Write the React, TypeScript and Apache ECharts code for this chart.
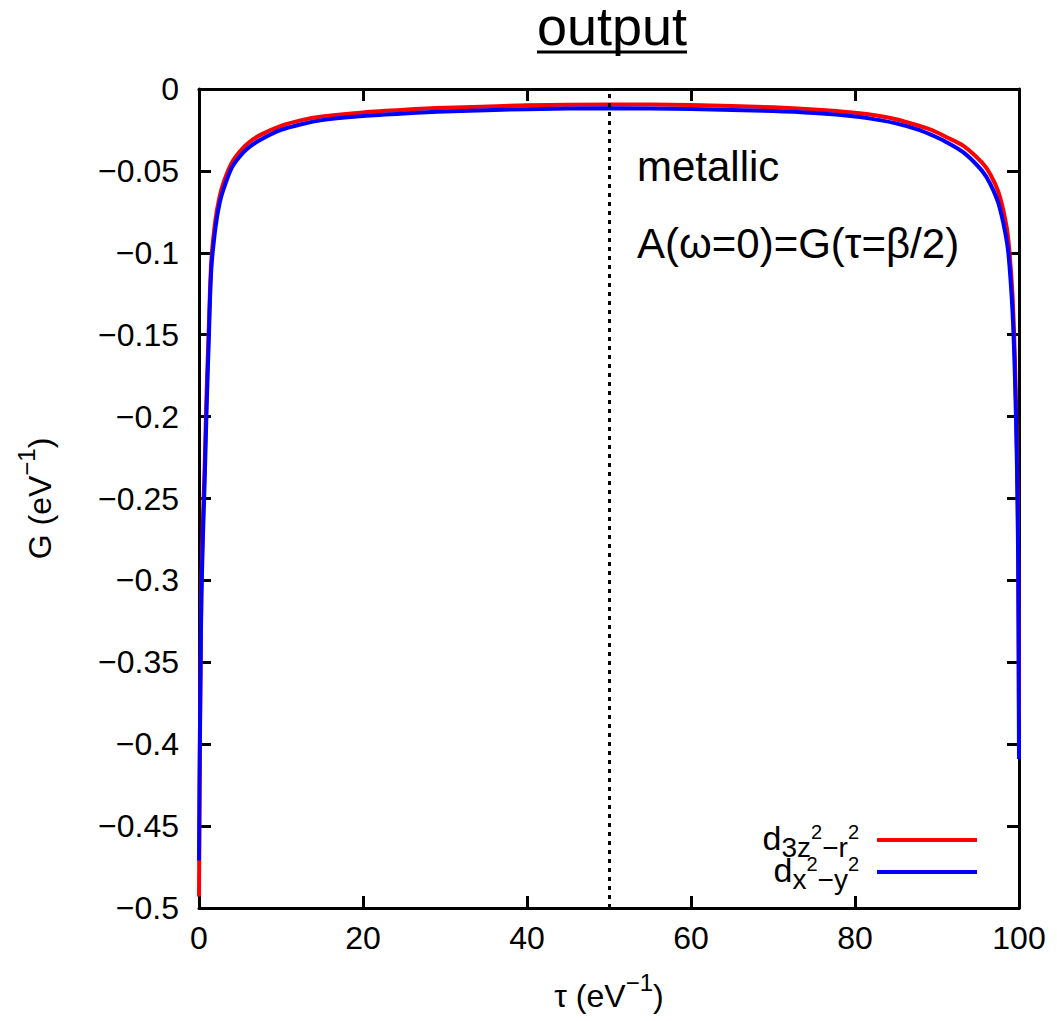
import React, { useEffect, useRef } from "react";
import * as echarts from "echarts";

const FONT = "'Liberation Sans', Arial, Helvetica, sans-serif";

// imaginary time grid (eV^-1)
const tau = [0, 0.1, 0.2, 0.3, 0.5, 0.7, 0.9, 1.2, 1.5, 2,
  2.5, 3, 4, 5, 6, 7.5, 10, 12.5, 15, 20,
  25, 30, 40, 50, 60, 70, 75, 80, 83, 85,
  87.5, 89.3, 91, 93.3, 95.5, 96.5, 97.5, 98.3, 98.7, 99.2,
  99.5, 99.75, 99.9, 100];

// G(tau) for d_{3z^2-r^2} (red)
const gZ2 = [-0.493, -0.41, -0.35, -0.30, -0.26, -0.228, -0.19, -0.145, -0.105, -0.08,
  -0.066, -0.057, -0.045, -0.038, -0.033, -0.028, -0.0225, -0.019, -0.0168, -0.0143,
  -0.0127, -0.0115, -0.0099, -0.0094, -0.0098, -0.0112, -0.0125, -0.0145, -0.0165, -0.0185,
  -0.022, -0.025, -0.029, -0.035, -0.045, -0.052, -0.063, -0.079, -0.092, -0.125,
  -0.165, -0.22, -0.28, -0.385];

// G(tau) for d_{x^2-y^2} (blue)
const gX2Y2 = [-0.471, -0.40, -0.35, -0.31, -0.27, -0.238, -0.2, -0.152, -0.11, -0.085,
  -0.07, -0.061, -0.048, -0.041, -0.036, -0.031, -0.025, -0.0215, -0.019, -0.0165,
  -0.0149, -0.0137, -0.0123, -0.0118, -0.0122, -0.0135, -0.0147, -0.0168, -0.019, -0.021,
  -0.0245, -0.028, -0.032, -0.039, -0.05, -0.058, -0.07, -0.087, -0.1, -0.135,
  -0.175, -0.23, -0.29, -0.409];

const seriesNames = ["d3z2-r2", "dx2-y2"];
const seriesColors = ["#ff0000", "#0000ff"];
const legendRich: Record<string, string> = {
  "d3z2-r2": "{d|d}{sb|3z}{ss|2}{sb|−r}{ssl|2}",
  "dx2-y2": "{d|d}{sb|x}{ss|2}{sb|−y}{ssl|2}",
};
const halfBeta = 50;
const title = "output";
const note1 = "metallic";
const note2 = "A(ω=0)=G(τ=β/2)";
const xName = "{b|τ (eV}{sup|−1}{b|)}";
const yName = "{b|G (eV}{sup|−1}{b|)}";

export default function App() {
  const ref = useRef<HTMLDivElement>(null);
  useEffect(() => {
    if (!ref.current) return;
    const chart = echarts.init(ref.current, null, { renderer: "svg" });
    const axisLine = { show: true, onZero: false, lineStyle: { color: "#000", width: 3 } };
    const axisTick = { show: true, inside: true, length: 12, lineStyle: { color: "#000", width: 3 } };
    const nameStyle = {
      fontSize: 32, color: "#000", fontFamily: FONT,
      rich: {
        b: { fontSize: 32, verticalAlign: "top", padding: [10, 0, 0, 0], fontFamily: FONT, color: "#000" },
        sup: { fontSize: 24, verticalAlign: "top", padding: [0, 0, 0, 0], fontFamily: FONT, color: "#000" },
      },
    };
    const seriesData = [gZ2, gX2Y2].map((vals) => tau.map((t, i) => [t, vals[i]]));
    const option: any = {
      animation: false,
      backgroundColor: "#fff",
      textStyle: { fontFamily: FONT },
      grid: { left: 199, right: 38, top: 89, bottom: 113 },
      xAxis: [
        {
          type: "value", min: 0, max: 100, interval: 20, position: "bottom",
          axisLine, axisTick, splitLine: { show: false },
          axisLabel: { fontSize: 32, color: "#000", margin: 14, fontFamily: FONT },
          name: xName, nameLocation: "middle", nameGap: 62,
          nameTextStyle: nameStyle,
        },
        {
          type: "value", min: 0, max: 100, interval: 20, position: "top",
          axisLine, axisTick, splitLine: { show: false }, axisLabel: { show: false },
        },
      ],
      yAxis: [
        {
          type: "value", min: -0.5, max: 0, interval: 0.05, position: "left",
          axisLine, axisTick, splitLine: { show: false },
          axisLabel: {
            fontSize: 32, color: "#000", margin: 20, fontFamily: FONT,
            formatter: (v: number) => {
              const r = Math.round(v * 100) / 100;
              return r === 0 ? "0" : "−" + String(Math.abs(r));
            },
          },
          name: yName, nameLocation: "middle", nameGap: 143,
          nameTextStyle: nameStyle,
        },
        {
          type: "value", min: -0.5, max: 0, interval: 0.05, position: "right",
          axisLine, axisTick, splitLine: { show: false }, axisLabel: { show: false },
        },
      ],
      legend: {
        show: true,
        orient: "vertical",
        right: 75,
        top: 816,
        align: "right",
        itemWidth: 100,
        itemHeight: 4,
        itemGap: -8,
        icon: "rect",
        data: seriesNames,
        formatter: (name: string) => legendRich[name],
        textStyle: {
          color: "#000", fontFamily: FONT, fontSize: 34,
          rich: {
            d: { fontSize: 34, fontFamily: FONT, color: "#000", verticalAlign: "top", padding: [2, 0, 0, 0] },
            sb: { fontSize: 28, fontFamily: FONT, color: "#000", verticalAlign: "top", padding: [14, 0, 0, 0] },
            ss: { fontSize: 20, fontFamily: FONT, color: "#000", verticalAlign: "top", padding: [3, 0, 0, 0] },
            ssl: { fontSize: 20, fontFamily: FONT, color: "#000", verticalAlign: "top", padding: [3, 13, 0, 0] },
          },
        },
      },
      graphic: [
        {
          type: "text",
          style: { text: title, x: 612, y: 26, align: "center", verticalAlign: "middle", fontSize: 54, fontFamily: FONT, fill: "#000" },
        },
        { type: "line", shape: { x1: 537, y1: 52, x2: 687, y2: 52 }, style: { stroke: "#000", lineWidth: 3 } },
        {
          type: "text",
          style: { text: note1, x: 637, y: 166, verticalAlign: "middle", fontSize: 42, fontFamily: FONT, fill: "#000" },
        },
        {
          type: "text",
          style: { text: note2, x: 637, y: 243, verticalAlign: "middle", fontSize: 42, fontFamily: FONT, fill: "#000" },
        },
      ],
      series: seriesNames.map((name, i) => ({
        name,
        type: "line",
        data: seriesData[i],
        showSymbol: false,
        smooth: 0.3,
        color: seriesColors[i],
        lineStyle: { color: seriesColors[i], width: 4 },
        z: 2 + i,
        markLine: i === 0 ? {
          silent: true,
          symbol: ["none", "none"],
          label: { show: false },
          lineStyle: { color: "#000", type: [4, 5], width: 3 },
          data: [{ xAxis: halfBeta }],
        } : undefined,
      })),
    };
    chart.setOption(option);
    return () => chart.dispose();
  }, []);
  return (
    <div
      ref={ref}
      style={{ position: "absolute", left: 0, top: 0, width: 1057, height: 1021, background: "#fff" }}
    />
  );
}
